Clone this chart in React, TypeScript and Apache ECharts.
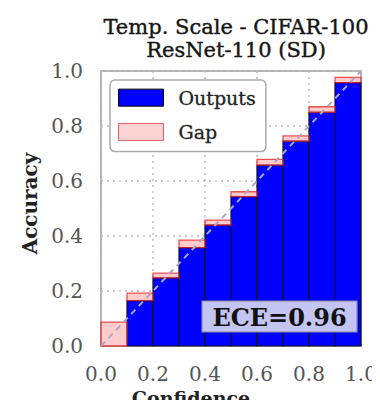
import React, { useEffect, useRef } from "react";
import * as echarts from "echarts";

const binLower = [0.0, 0.1, 0.2, 0.3, 0.4, 0.5, 0.6, 0.7, 0.8, 0.9];
const binUpper = [0.1, 0.2, 0.3, 0.4, 0.5, 0.6, 0.7, 0.8, 0.9, 1.0];
const outputs = [0.0, 0.165, 0.248, 0.358, 0.44, 0.543, 0.658, 0.745, 0.85, 0.958];
const gapTop = [0.087, 0.192, 0.265, 0.385, 0.458, 0.561, 0.679, 0.764, 0.87, 0.977];
const diagonal = [[0, 0], [1, 1]];
const titleLines = ["Temp. Scale - CIFAR-100", "ResNet-110 (SD)"];
const eceText = "ECE=0.96";

const SERIF = "DejaVu Serif";

export default function App() {
  const ref = useRef<HTMLDivElement>(null);
  useEffect(() => {
    const chart = echarts.init(ref.current!, null, { renderer: "svg" });
    const outData = binLower.map((lo, i) => [lo, binUpper[i], outputs[i]]);
    const gapData = binLower.map((lo, i) => [lo, binUpper[i], outputs[i], gapTop[i]]);
    chart.setOption({
      animation: false,
      backgroundColor: "#ffffff",
      title: {
        text: titleLines.join("\n"),
        left: 231,
        top: 10,
        textAlign: "center",
        textStyle: {
          fontFamily: SERIF,
          fontSize: 21,
          fontWeight: "normal",
          color: "#151515",
          lineHeight: 23,
          textBorderColor: "#151515",
          textBorderWidth: 0.4,
        },
      },
      grid: {
        left: 101,
        right: 19,
        top: 71,
        bottom: 62,
        show: true,
        borderColor: "#999",
        borderWidth: 1.5,
        backgroundColor: "transparent",
        containLabel: false,
        outerBoundsMode: "none",
      },
      legend: {
        left: 110,
        top: 80,
        orient: "vertical",
        itemWidth: 45,
        itemHeight: 17,
        itemGap: 15,
        padding: [8, 10, 10, 8],
        borderColor: "#aaa",
        borderWidth: 1.5,
        borderRadius: 5,
        backgroundColor: "#fff",
        textStyle: {
          fontFamily: SERIF,
          fontSize: 19,
          fontWeight: "normal",
          color: "#222",
          textBorderColor: "#222",
          textBorderWidth: 0.3,
          padding: [0, 0, 0, 10],
        },
        data: [
          { name: "Outputs", icon: "rect", itemStyle: { color: "#0000ff", borderColor: "#000", borderWidth: 1 } },
          { name: "Gap", icon: "rect", itemStyle: { color: "#fbd3d3", borderColor: "#e06060", borderWidth: 1 } },
        ],
      },
      xAxis: {
        type: "value",
        min: 0,
        max: 1,
        interval: 0.2,
        name: "Confidence",
        nameLocation: "middle",
        nameGap: 40,
        nameTextStyle: {
          fontFamily: SERIF,
          fontSize: 19,
          fontWeight: "bold",
          color: "#222",
          lineHeight: 19,
          padding: [0, 80, 0, 0],
        },
        axisLine: { show: false },
        axisTick: { show: false },
        axisLabel: {
          fontFamily: SERIF,
          fontSize: 20,
          color: "#555",
          margin: 18,
          formatter: (v: number) => v.toFixed(1),
        },
        splitLine: { show: true, lineStyle: { color: "#bbb", type: [2, 4], width: 1.5 } },
      },
      yAxis: {
        type: "value",
        min: 0,
        max: 1,
        interval: 0.2,
        name: "Accuracy",
        nameLocation: "middle",
        nameGap: 60,
        nameRotate: 90,
        nameTextStyle: {
          fontFamily: SERIF,
          fontSize: 20,
          fontWeight: "bold",
          color: "#222",
          padding: [0, 0, 0, 10],
        },
        axisLine: { show: false },
        axisTick: { show: false },
        axisLabel: {
          fontFamily: SERIF,
          fontSize: 20,
          color: "#555",
          margin: 18,
          formatter: (v: number) => v.toFixed(1),
        },
        splitLine: { show: true, lineStyle: { color: "#bbb", type: [2, 4], width: 1.5 } },
      },
      series: [
        {
          name: "Outputs",
          type: "custom",
          z: 2,
          itemStyle: { color: "#0000ff", borderColor: "#000", borderWidth: 1 },
          data: outData,
          encode: { x: [0, 1], y: 2 },
          renderItem: (params: any, api: any) => {
            const lo = api.value(0), hi = api.value(1), v = api.value(2);
            if (v <= 0) return null;
            const p0 = api.coord([lo, 0]);
            const p1 = api.coord([hi, v]);
            return {
              type: "rect",
              shape: { x: p0[0], y: p1[1], width: p1[0] - p0[0], height: p0[1] - p1[1] },
              style: { fill: "#0000ff", stroke: "#111133", lineWidth: 1.2 },
            };
          },
        },
        {
          name: "Gap",
          type: "custom",
          z: 3,
          itemStyle: { color: "#fbd3d3", borderColor: "#e06060", borderWidth: 1 },
          data: gapData,
          encode: { x: [0, 1], y: [2, 3] },
          renderItem: (params: any, api: any) => {
            const lo = api.value(0), hi = api.value(1), b = api.value(2), t = api.value(3);
            const p0 = api.coord([lo, b]);
            const p1 = api.coord([hi, t]);
            return {
              type: "rect",
              shape: { x: p0[0], y: p1[1], width: p1[0] - p0[0], height: p0[1] - p1[1] },
              style: { fill: "rgba(255,140,140,0.45)", stroke: "rgba(225,30,30,0.75)", lineWidth: 1.3 },
            };
          },
        },
        {
          name: "Perfect",
          type: "line",
          z: 4,
          data: diagonal,
          symbol: "none",
          silent: true,
          lineStyle: { color: "#a8a8c4", width: 2, type: [6, 5] },
        },
      ],
      graphic: {
        elements: [
          {
            type: "rect",
            id: "eceBox",
            x: 202,
            y: 301,
            z: 100,
            shape: { x: 0, y: 0, width: 155, height: 31 },
            style: { fill: "#c3c4f2", stroke: "#8a8a9a", lineWidth: 1.2 },
          },
          {
            type: "text",
            id: "eceText",
            x: 279.5,
            y: 317,
            z: 101,
            style: {
              text: eceText,
              font: "bold 24px 'DejaVu Serif'",
              fill: "#111",
              textAlign: "center",
              textVerticalAlign: "middle",
            },
          },
        ],
      },
    });
    return () => chart.dispose();
  }, []);
  return <div ref={ref} style={{ width: 380, height: 408, margin: -8 }} />;
}
